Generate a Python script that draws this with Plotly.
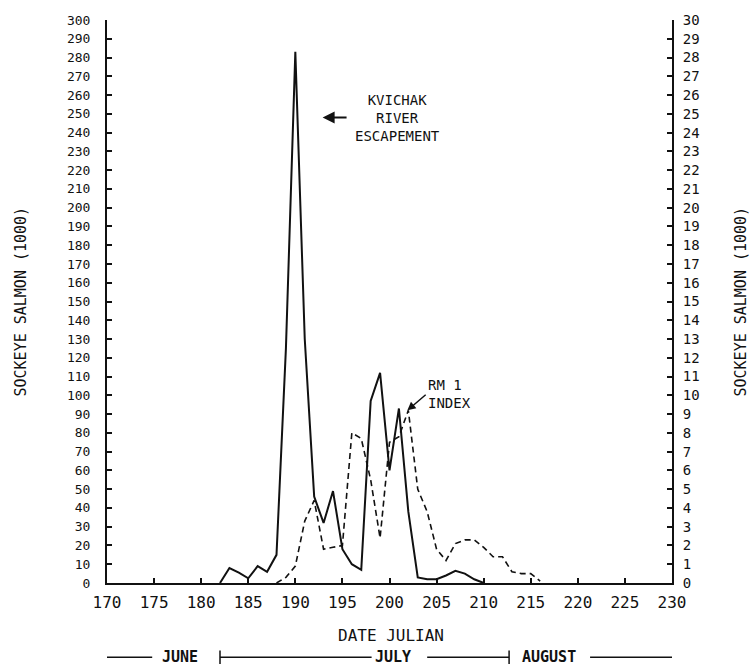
import plotly.graph_objects as go

# Kvichak River escapement (thousands of fish), left axis
kvichak_days = list(range(182, 211))
kvichak_vals = [0, 8, 5.5, 2.5, 9, 6, 15, 125, 283, 130, 46, 32, 49, 18, 10, 7,
                97, 112, 60, 93, 38, 3, 2, 2, 4, 6.5, 5, 2, 0]

# RM 1 index (thousands of fish), right axis
rm1_days = list(range(188, 217))
rm1_vals = [0, 0.3, 0.9, 3.3, 4.4, 1.8, 1.9, 2.0, 8.0, 7.7, 5.5, 2.4, 7.5, 7.8,
            9.2, 5.0, 3.8, 1.8, 1.2, 2.1, 2.3, 2.3, 1.9, 1.4, 1.4, 0.6, 0.5, 0.5, 0.1]

x_ticks = list(range(170, 231, 5))
left_ticks = list(range(0, 301, 10))
right_ticks = list(range(0, 31))

months = ["JUNE", "JULY", "AUGUST"]
month_starts = [182, 213]  # Julian day of July 1 and August 1

kvichak_label = ["KVICHAK", "RIVER", "ESCAPEMENT"]
rm1_label = ["RM 1", "INDEX"]

FONT = "DejaVu Sans Mono"
INK = "#111111"

fig = go.Figure()
fig.add_trace(go.Scatter(x=kvichak_days, y=kvichak_vals, mode="lines",
                         line=dict(color=INK, width=2), yaxis="y"))
fig.add_trace(go.Scatter(x=rm1_days, y=rm1_vals, mode="lines",
                         line=dict(color=INK, width=1.6, dash="6px,4px"), yaxis="y2"))

axis_common = dict(showgrid=False, zeroline=False, showline=True, linecolor=INK,
                   linewidth=2, ticks="inside", ticklen=5, tickwidth=1.5,
                   tickcolor=INK)

fig.update_layout(
    width=752, height=668,
    margin=dict(l=107, r=80, t=14, b=85),
    paper_bgcolor="white", plot_bgcolor="white",
    showlegend=False,
    xaxis=dict(range=[170, 230], tickvals=x_ticks, ticktext=[str(v) for v in x_ticks],
               tickfont=dict(family=FONT, size=16, color=INK), ticklabelstandoff=4,
               **axis_common),
    yaxis=dict(range=[0, 300], tickvals=left_ticks, ticktext=[str(v) for v in left_ticks],
               tickfont=dict(family=FONT, size=13, color=INK), ticklabelstandoff=12,
               **axis_common),
    yaxis2=dict(range=[0, 30], tickvals=right_ticks, ticktext=[str(v) for v in right_ticks],
                overlaying="y", side="right",
                tickfont=dict(family=FONT, size=14, color=INK), ticklabelstandoff=6,
                **axis_common),
)

annotations = []
# axis titles
annotations.append(dict(text="SOCKEYE SALMON (1000)", xref="paper", yref="paper",
                        x=0, y=0.5, xshift=-87, xanchor="center", yanchor="middle",
                        textangle=-90, showarrow=False,
                        font=dict(family=FONT, size=15, color=INK)))
annotations.append(dict(text="SOCKEYE SALMON (1000)", xref="paper", yref="paper",
                        x=1, y=0.5, xshift=68, xanchor="center", yanchor="middle",
                        textangle=-90, showarrow=False,
                        font=dict(family=FONT, size=15, color=INK)))
annotations.append(dict(text="DATE JULIAN", xref="x", yref="paper", x=200.2, y=-0.093,
                        xanchor="center", yanchor="middle",
                        showarrow=False, font=dict(family=FONT, size=16, color=INK)))

# month strip below the axis
strip_y = -0.132
month_x = [177.8, 200.4, 216.9]
for name, mx in zip(months, month_x):
    annotations.append(dict(text="<b>" + name + "</b>", xref="x", yref="paper", x=mx,
                            y=strip_y, xanchor="center", yanchor="middle",
                            showarrow=False,
                            font=dict(family=FONT, size=15, color=INK)))

# series labels
annotations.append(dict(text="<br>".join(kvichak_label), xref="x", yref="y",
                        x=200.8, y=248, xanchor="center", yanchor="middle", align="center",
                        showarrow=False, font=dict(family=FONT, size=14, color=INK)))
annotations.append(dict(text="", xref="x", yref="y", x=192.9, y=248,
                        axref="x", ayref="y", ax=195.6, ay=248, showarrow=True,
                        arrowhead=2, arrowsize=1.2, arrowwidth=2, arrowcolor=INK))

annotations.append(dict(text="<br>".join(rm1_label), xref="x", yref="y",
                        x=203.9, y=100.5, xanchor="left", yanchor="middle", align="left",
                        showarrow=False, font=dict(family=FONT, size=14, color=INK)))
annotations.append(dict(text="", xref="x", yref="y2", x=201.9, y=9.2,
                        axref="x", ayref="y2", ax=204.0, ay=10.1, showarrow=True,
                        arrowhead=2, arrowsize=1.1, arrowwidth=1.5, arrowcolor=INK))

fig.update_layout(annotations=annotations)

# month strip rules
segments = [(169.8, 174.8), (month_starts[0], 198.1), (204.0, month_starts[1] - 0.3),
            (221.3, 230.2)]
shapes = []
for x0, x1 in segments:
    shapes.append(dict(type="line", xref="x", yref="paper", x0=x0, x1=x1,
                       y0=strip_y, y1=strip_y, line=dict(color=INK, width=1.5)))
for xb in [month_starts[0], month_starts[1] - 0.3]:
    shapes.append(dict(type="line", xref="x", yref="paper", x0=xb, x1=xb,
                       y0=strip_y - 0.012, y1=strip_y + 0.012,
                       line=dict(color=INK, width=1.5)))
fig.update_layout(shapes=shapes)

fig.write_html("out.html")
